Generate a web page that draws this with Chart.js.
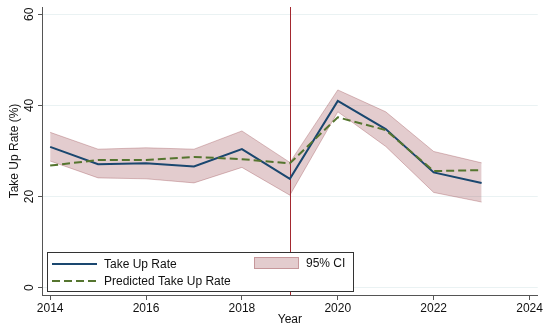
<!DOCTYPE html>
<html>
<head>
<meta charset="utf-8">
<title>Take Up Rate</title>
<script src="https://cdn.jsdelivr.net/npm/chart.js@4.4.1/dist/chart.umd.min.js"></script>
<style>
  html, body { margin: 0; padding: 0; background: #fff; }
  #wrap { width: 544px; height: 327px; }
</style>
</head>
<body>
<div id="wrap"><canvas id="takeUpChart"></canvas></div>
<script>
// Series
const years = [2014, 2015, 2016, 2017, 2018, 2019, 2020, 2021, 2022, 2023];
const takeUpRate = [30.9, 27.1, 27.3, 26.6, 30.4, 23.9, 41.0, 34.8, 25.3, 23.0];
const predictedRate = [26.8, 28.0, 28.0, 28.7, 28.2, 27.3, 37.4, 34.6, 25.6, 25.8];
const ciUpper = [34.1, 30.4, 30.7, 30.4, 34.4, 27.5, 43.4, 38.6, 29.9, 27.4];
const ciLower = [27.8, 24.1, 23.9, 23.0, 26.4, 20.3, 38.6, 31.0, 20.9, 18.8];

// Axes
const xTicks = [2014, 2016, 2018, 2020, 2022, 2024];
const yTicks = [0, 20, 40, 60];
const policyYear = 2019;

const FONT = '"Liberation Sans", Arial, Helvetica, sans-serif';
const COLORS = {
    navy: '#1a476f',
    green: '#55752f',
    ciFill: 'rgba(144, 53, 59, 0.25)',
    ciEdge: 'rgba(144, 53, 59, 0.30)',
    vline: '#a3282f',
    grid: '#eaf2f3',
    axis: '#555555',
    text: '#111111'
};

const pts = (vals) => years.map((yr, i) => ({ x: yr, y: vals[i] }));

// Vertical reference line at the policy year
const policyLine = {
    id: 'policyLine',
    beforeDatasetsDraw(chart) {
        const { ctx, chartArea, scales } = chart;
        const x = Math.round(scales.x.getPixelForValue(policyYear)) + 0.5;
        ctx.save();
        ctx.strokeStyle = COLORS.vline;
        ctx.lineWidth = 1;
        ctx.beginPath();
        ctx.moveTo(x, chartArea.top);
        ctx.lineTo(x, chartArea.bottom);
        ctx.stroke();
        ctx.restore();
    }
};

// Vertical y tick labels (read bottom to top)
const yLabels = {
    id: 'yLabels',
    afterDraw(chart) {
        const { ctx, scales } = chart;
        ctx.save();
        ctx.font = '12px ' + FONT;
        ctx.fillStyle = COLORS.text;
        ctx.textAlign = 'center';
        ctx.textBaseline = 'middle';
        yTicks.forEach(v => {
            const y = scales.y.getPixelForValue(v);
            ctx.save();
            ctx.translate(30, y);
            ctx.rotate(-Math.PI / 2);
            ctx.fillText(String(v), 0, 0);
            ctx.restore();
        });
        ctx.restore();
    }
};

// Boxed legend inside the plot, two columns
const boxLegend = {
    id: 'boxLegend',
    afterDraw(chart) {
        const { ctx } = chart;
        const ds = chart.data.datasets;
        ctx.save();
        ctx.fillStyle = '#ffffff';
        ctx.fillRect(47.5, 252.5, 306, 39);
        ctx.strokeStyle = '#333333';
        ctx.lineWidth = 1;
        ctx.strokeRect(47.5, 252.5, 306, 39);

        ctx.font = '12px ' + FONT;
        ctx.fillStyle = COLORS.text;
        ctx.textBaseline = 'middle';
        ctx.textAlign = 'left';

        // Take Up Rate
        ctx.strokeStyle = ds[0].borderColor;
        ctx.lineWidth = ds[0].borderWidth;
        ctx.beginPath();
        ctx.moveTo(52, 264);
        ctx.lineTo(97, 264);
        ctx.stroke();
        ctx.fillText(ds[0].label, 104, 264.5);

        // Predicted Take Up Rate
        ctx.strokeStyle = ds[1].borderColor;
        ctx.lineWidth = ds[1].borderWidth;
        ctx.setLineDash(ds[1].borderDash);
        ctx.beginPath();
        ctx.moveTo(52, 281);
        ctx.lineTo(97, 281);
        ctx.stroke();
        ctx.setLineDash([]);
        ctx.fillText(ds[1].label, 104, 281.5);

        // 95% CI swatch
        ctx.fillStyle = ds[2].backgroundColor;
        ctx.fillRect(254, 257, 45, 12);
        ctx.strokeStyle = 'rgba(144, 53, 59, 0.35)';
        ctx.lineWidth = 1;
        ctx.strokeRect(254.5, 257.5, 44, 11);
        ctx.fillStyle = COLORS.text;
        ctx.fillText(ds[2].label, 306, 264);
        ctx.restore();
    }
};

new Chart(document.getElementById('takeUpChart'), {
    type: 'line',
    data: {
        datasets: [
            {
                label: 'Take Up Rate',
                data: pts(takeUpRate),
                borderColor: COLORS.navy,
                borderWidth: 2,
                pointRadius: 0,
                tension: 0,
                fill: false,
                order: 1
            },
            {
                label: 'Predicted Take Up Rate',
                data: pts(predictedRate),
                borderColor: COLORS.green,
                borderWidth: 2,
                borderDash: [8, 4],
                pointRadius: 0,
                tension: 0,
                fill: false,
                order: 0
            },
            {
                label: '95% CI',
                data: pts(ciUpper),
                borderColor: COLORS.ciEdge,
                backgroundColor: COLORS.ciFill,
                borderWidth: 1,
                pointRadius: 0,
                tension: 0,
                fill: '+1',
                order: 2
            },
            {
                label: '95% CI lower',
                data: pts(ciLower),
                borderColor: COLORS.ciEdge,
                borderWidth: 1,
                pointRadius: 0,
                tension: 0,
                fill: false,
                order: 3
            }
        ]
    },
    options: {
        responsive: true,
        maintainAspectRatio: false,
        animation: false,
        layout: { padding: { top: 7, right: 6, bottom: 0, left: 0 } },
        plugins: {
            legend: { display: false },
            tooltip: { enabled: false }
        },
        scales: {
            x: {
                type: 'linear',
                min: 2013.83,
                max: 2024.17,
                afterBuildTicks: (scale) => { scale.ticks = xTicks.map(v => ({ value: v })); },
                afterFit: (scale) => { scale.height = 32; },
                grid: {
                    drawOnChartArea: false,
                    tickColor: COLORS.axis,
                    tickLength: 5
                },
                border: { color: COLORS.axis, width: 1 },
                ticks: {
                    color: COLORS.text,
                    font: { family: FONT, size: 12 },
                    padding: 1,
                    maxRotation: 0,
                    callback: (v) => String(v)
                },
                title: {
                    display: true,
                    text: 'Year',
                    color: COLORS.text,
                    font: { family: FONT, size: 12 },
                    padding: { top: 0, bottom: 0 }
                }
            },
            y: {
                min: -1.6,
                max: 61.6,
                afterBuildTicks: (scale) => { scale.ticks = yTicks.map(v => ({ value: v })); },
                afterFit: (scale) => { scale.width = 42; },
                grid: {
                    color: COLORS.grid,
                    tickColor: COLORS.axis,
                    tickLength: 4
                },
                border: { color: COLORS.axis, width: 1 },
                ticks: { display: false },
                title: {
                    display: true,
                    text: 'Take Up Rate (%)',
                    color: COLORS.text,
                    font: { family: FONT, size: 12 },
                    padding: { top: 7, bottom: 0 }
                }
            }
        }
    },
    plugins: [policyLine, yLabels, boxLegend]
});
</script>
</body>
</html>
